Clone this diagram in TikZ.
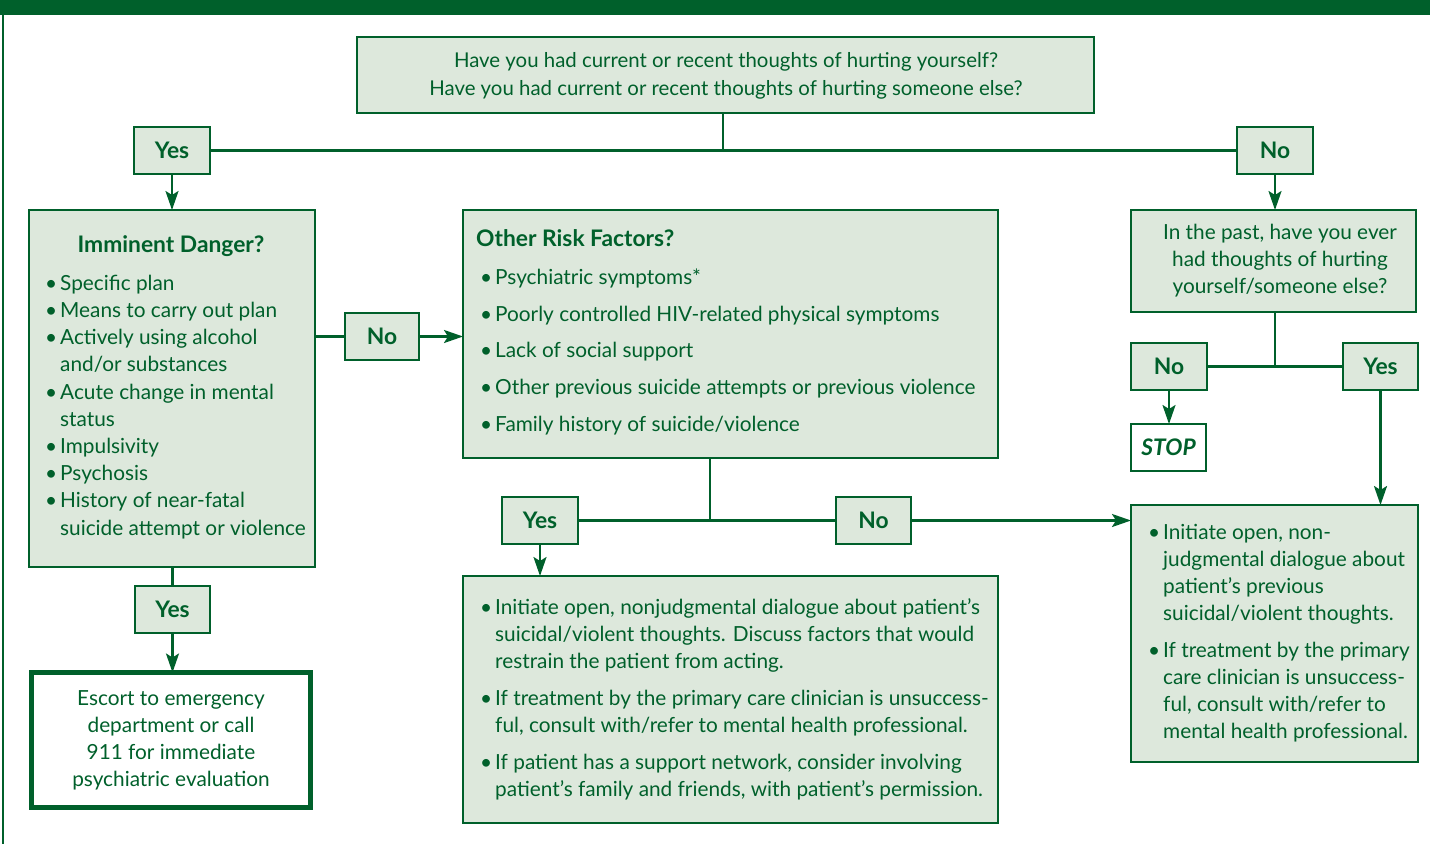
\documentclass[tikz,border=0pt]{standalone}
\usepackage{fontspec}
\setmainfont{Lato}
\usetikzlibrary{arrows.meta,calc}
\definecolor{dg}{HTML}{00602B}
\definecolor{lg}{HTML}{DDE8DC}
\newcommand{\fs}{\fontsize{20.8}{27}\selectfont}
\newcommand{\hs}{\fontsize{22.8}{27}\selectfont\bfseries}
\newcommand{\bl}{\makebox[15pt][l]{•}}
\newcommand{\ind}{\hspace*{15pt}}
\begin{document}
\begin{tikzpicture}[x=1pt,y=-1pt,
  box/.style={draw=dg, line width=1.3pt, fill=lg, inner sep=0pt, outer sep=0pt, anchor=north west},
  lab/.style={box, minimum width=76pt, minimum height=47pt, font=\hs, text=dg},
  txt/.style={text=dg, font=\fs, inner sep=0pt},
  conn/.style={draw=dg, line width=2.4pt},
  arr/.style={conn, -{Stealth[length=19pt,width=13pt,inset=4pt]}}]
\useasboundingbox (0,0) rectangle (1430,844);
\fill[dg] (0,0) rectangle (1430,15);
\draw[dg, line width=1.5pt] (3,15) -- (3,844);

% boxes
\node[box, minimum width=737pt, minimum height=76pt] (top) at (357,37) {};
\node[lab] (yes1) at (134,127) {Yes};
\node[lab] (no1) at (1237,127) {No};
\node[box, minimum width=286pt, minimum height=357pt] (imm) at (29,210) {};
\node[lab, minimum width=74pt] (no2) at (345,313) {No};
\node[box, minimum width=535pt, minimum height=248pt] (risk) at (463,210) {};
\node[lab] (yes3) at (502,497) {Yes};
\node[lab, minimum width=75pt] (no3) at (836,497) {No};
\node[box, minimum width=535pt, minimum height=247pt] (bm) at (463,576) {};
\node[box, minimum width=285pt, minimum height=102pt] (past) at (1131,210) {};
\node[lab] (no4) at (1131,343) {No};
\node[lab, minimum width=75pt] (yes4) at (1343,343) {Yes};
\node[lab, fill=white, minimum width=75pt, font=\hs\itshape] (stop) at (1131,424) {STOP};
\node[box, minimum width=287pt, minimum height=257pt] (rb) at (1131,505) {};
\node[lab, minimum width=75pt] (yes5) at (135,586) {Yes};
\node[box, fill=white, line width=5pt, minimum width=279pt, minimum height=135pt] (esc) at (31.5,672.5) {};

% texts
\node[txt, anchor=north, align=center, font=\fontsize{20.4}{28}\selectfont] (ttop) at (726,48.1)
  {\strut Have you had current or recent thoughts of hurting yourself?\\
   Have you had current or recent thoughts of hurting someone else?};
\node[txt, anchor=base, font=\hs] (timmh) at (171,252) {Imminent Danger?};
\node[txt, anchor=north west, align=left, font=\fontsize{20.8}{27.2}\selectfont] (timm) at (45,271.1)
  {\strut\bl Specific plan\\
   \bl Means to carry out plan\\
   \bl Actively using alcohol\\
   \ind and/or substances\\
   \bl Acute change in mental\\
   \ind status\\
   \bl Impulsivity\\
   \bl Psychosis\\
   \bl History of near-fatal\\
   \ind suicide attempt or violence};
\node[txt, anchor=base west, font=\hs] (triskh) at (476,246) {Other Risk Factors?};
\node[txt, anchor=north west, align=left] (trisk) at (480,265.1)
  {\strut\bl Psychiatric symptoms*\\[9.8pt]
   \bl Poorly controlled HIV-related physical symptoms\\[9.8pt]
   \bl Lack of social support\\[9.8pt]
   \bl Other previous suicide attempts or previous violence\\[9.8pt]
   \bl Family history of suicide/violence};
\node[txt, anchor=north west, align=left] (tbm) at (480,595.1)
  {\strut\bl Initiate open, nonjudgmental dialogue about patient’s\\
   \ind suicidal/violent thoughts. Discuss factors that would\\
   \ind restrain the patient from acting.\\[10pt]
   \bl If treatment by the primary care clinician is unsuccess-\\
   \ind ful, consult with/refer to mental health professional.\\[10pt]
   \bl If patient has a support network, consider involving\\
   \ind patient’s family and friends, with patient’s permission.};
\node[txt, anchor=north, align=center] (tpast) at (1280,220.1)
  {\strut In the past, have you ever\\
   had thoughts of hurting\\
   yourself/someone else?};
\node[txt, anchor=north west, align=left] (trb) at (1148,520.1)
  {\strut\bl Initiate open, non-\\
   \ind judgmental dialogue about\\
   \ind patient’s previous\\
   \ind suicidal/violent thoughts.\\[10pt]
   \bl If treatment by the primary\\
   \ind care clinician is unsuccess-\\
   \ind ful, consult with/refer to\\
   \ind mental health professional.};
\node[txt, anchor=north, align=center] (tesc) at (171,686.1)
  {\strut Escort to emergency\\
   department or call\\
   911 for immediate\\
   psychiatric evaluation};

% connectors
\coordinate (j1) at (723,150.5);
\draw[conn] (j1 |- top.south) -- (j1);
\draw[conn] (yes1.east) -- (no1.west);
\draw[arr] (yes1.south) -- (yes1.south |- imm.north);
\draw[arr] (no1.south) -- (no1.south |- past.north);
\draw[conn] (imm.east |- no2.west) -- (no2.west);
\draw[arr] (no2.east) -- (no2.east -| risk.west);
\coordinate (j2) at (710,520.5);
\draw[conn] (j2 |- risk.south) -- (j2);
\draw[conn] (yes3.east) -- (no3.west);
\draw[arr] (no3.east) -- (no3.east -| rb.west);
\draw[arr] (yes3.south) -- (yes3.south |- bm.north);
\coordinate (j3) at (1275,366.5);
\draw[conn] (j3 |- past.south) -- (j3);
\draw[conn] (no4.east) -- (yes4.west);
\draw[arr] (no4.south) -- (no4.south |- stop.north);
\draw[arr] (yes4.south) -- (yes4.south |- rb.north);
\draw[conn] (yes5.north |- imm.south) -- (yes5.north);
\draw[arr] (yes5.south) -- (yes5.south |- esc.north);
\end{tikzpicture}
\end{document}
